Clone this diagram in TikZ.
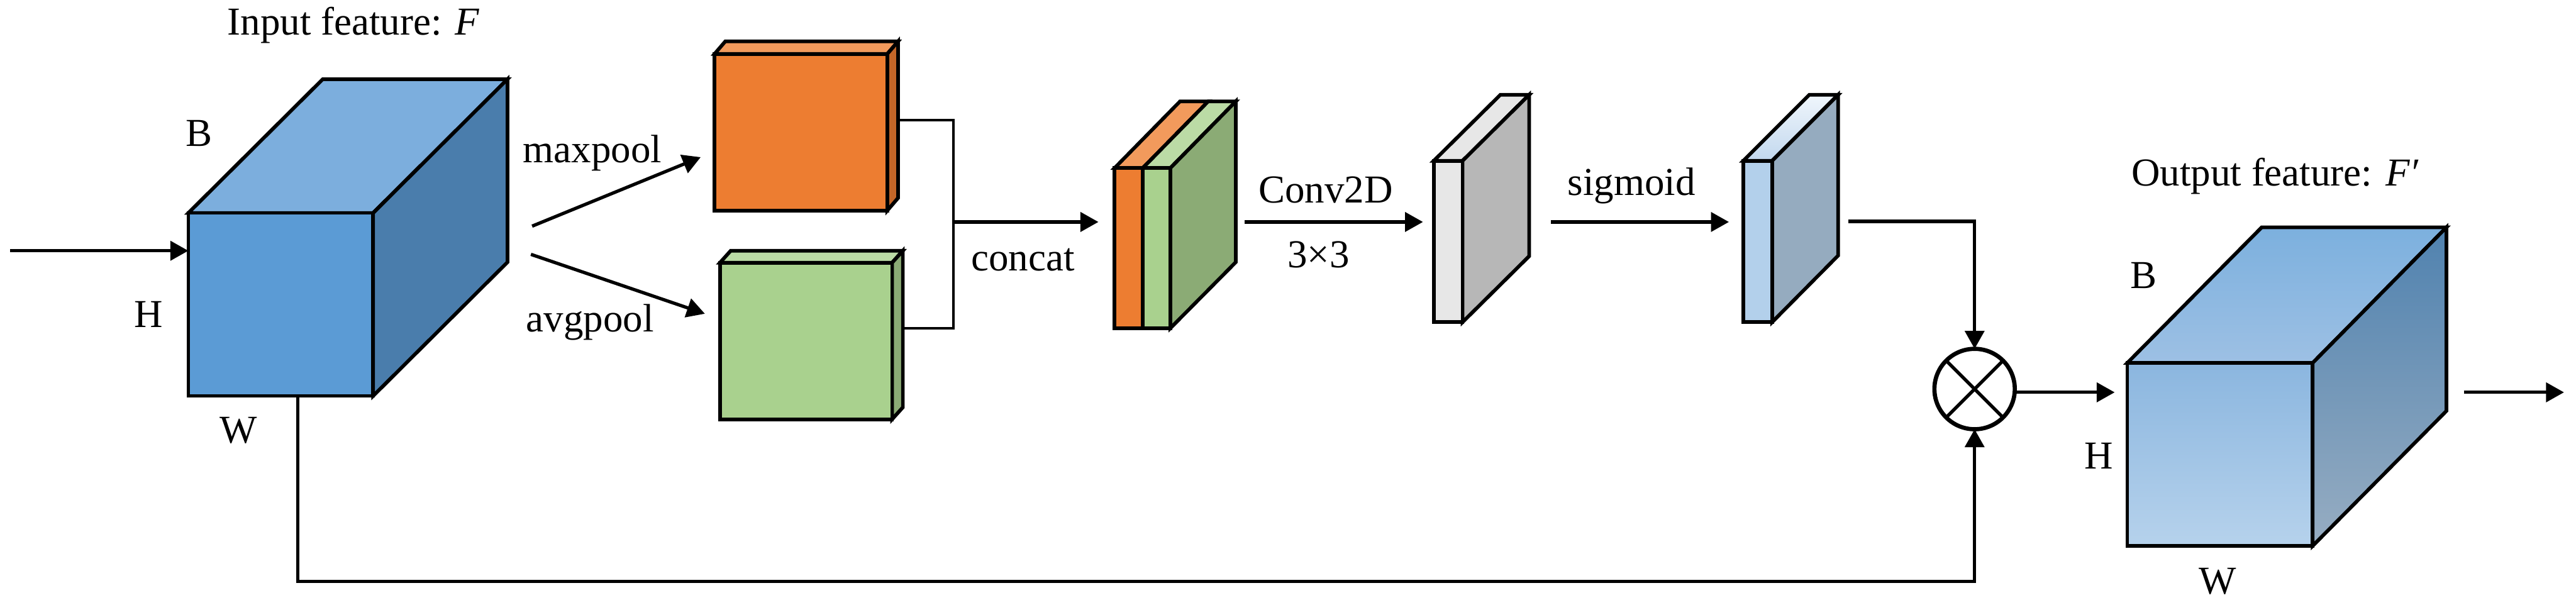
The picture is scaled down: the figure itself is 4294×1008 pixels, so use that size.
\documentclass[tikz,border=0pt]{standalone}
\usepackage{fontspec}
\setmainfont{Liberation Serif}
\usetikzlibrary{arrows.meta,calc}
\definecolor{cA}{HTML}{5B9BD5}\definecolor{cAt}{HTML}{7CAEDD}\definecolor{cAs}{HTML}{4A7DAC}
\definecolor{cO}{HTML}{ED7D31}\definecolor{cOt}{HTML}{F29A5C}\definecolor{cOs}{HTML}{C46628}
\definecolor{cG}{HTML}{A9D18E}\definecolor{cGt}{HTML}{BBDBA5}\definecolor{cGs}{HTML}{8BAB75}
\definecolor{cY}{HTML}{E7E7E7}\definecolor{cYs}{HTML}{B7B7B7}
\definecolor{c1}{HTML}{C9DEF1}\definecolor{c2}{HTML}{B3D0EB}
\definecolor{c3}{HTML}{95ABBF}\definecolor{c4}{HTML}{B9C2C9}
\definecolor{c5}{HTML}{C2D8EE}\definecolor{c6}{HTML}{F0F6FC}
\definecolor{d1}{HTML}{8BB6DF}\definecolor{d2}{HTML}{B6D2EC}
\definecolor{d3}{HTML}{7CB0DE}\definecolor{d4}{HTML}{9DC0E4}
\definecolor{d5}{HTML}{5082AF}\definecolor{d6}{HTML}{97ADC2}
\pgfdeclareverticalshading{bfront}{100bp}{color(0bp)=(c1);color(10bp)=(c1);color(20bp)=(c2);color(100bp)=(c2)}
\pgfdeclareverticalshading{bside}{100bp}{color(0bp)=(c3);color(70bp)=(c3);color(100bp)=(c4)}
\tikzset{
  every node/.style={font=\fontsize{66}{70}\selectfont},
  edge/.style={draw=black,line width=6pt,line join=miter},
  facebox/.style={edge,inner sep=0pt,outer sep=0pt},
  lab/.style={inner sep=0pt,anchor=base},
  labw/.style={inner sep=0pt,anchor=base west},
  wire/.style={draw=black,line width=4.5pt},
  plain/.style={draw=black,line width=5.5pt},
  link/.style={plain,-{Triangle[length=30pt,width=32pt]}},
}
% options of front node, x0, y0 (front top-left), x1, y1 (front bottom-right), dx, dy, top, side
\newcommand{\cubeface}[9]{%
  \path[edge,#8] (#2,#3) -- ++(#6,-#7) -- (#4+#6,#3-#7) -- (#4,#3) -- cycle;
  \path[edge,#9] (#4,#3) -- (#4+#6,#3-#7) -- (#4+#6,#5-#7) -- (#4,#5) -- cycle;
  \node[facebox,minimum width=#4pt-#2pt,minimum height=#5pt-#3pt,anchor=north west,#1] at (#2,#3) {};
}
\begin{document}
\begin{tikzpicture}[x=1pt,y=-1pt]
\useasboundingbox (0,0) rectangle (4294,1008);
% blocks
\cubeface{name=fin,fill=cA}{314}{355}{622}{660}{224}{223}{fill=cAt}{fill=cAs}
\cubeface{name=fmax,fill=cO}{1191}{90}{1479}{351}{18}{21}{fill=cOt}{fill=cOs}
\cubeface{name=favg,fill=cG}{1200}{438}{1487}{699}{18}{20}{fill=cGt}{fill=cGs}
% concatenated block
\path[edge,fill=cOt] (1858,280) -- (1967,169) -- (2014,169) -- (1905,280) -- cycle;
\path[edge,fill=cGt] (1905,280) -- (2014,169) -- (2060,169) -- (1951,280) -- cycle;
\path[edge,fill=cGs] (1951,280) -- (2060,169) -- (2060,437) -- (1951,547) -- cycle;
\node[facebox,fill=cO,minimum width=47pt,minimum height=267pt,anchor=north west] (corange) at (1858,280) {};
\node[facebox,fill=cG,minimum width=46pt,minimum height=267pt,anchor=north west] (cgreen) at (1905,280) {};
\cubeface{name=fconv,fill=cY}{2390}{268}{2438}{537}{111}{110}{fill=cY}{fill=cYs}
% sigmoid block
\path[edge,top color=c6,bottom color=c5] (2906,268) -- (3016,158) -- (3064,158) -- (2954,268) -- cycle;
\path[edge,shading=bside] (2954,268) -- (3064,158) -- (3064,426) -- (2954,537) -- cycle;
\node[facebox,shading=bfront,minimum width=48pt,minimum height=269pt,anchor=north west] (fsig) at (2906,268) {};
% output cube
\path[edge,top color=d3,bottom color=d4] (3546,605) -- (3770,379) -- (4078,379) -- (3855,605) -- cycle;
\path[edge,top color=d5,bottom color=d6] (3855,605) -- (4078,379) -- (4078,685) -- (3855,910) -- cycle;
\node[facebox,top color=d1,bottom color=d2,minimum width=309pt,minimum height=305pt,anchor=north west] (fout) at (3546,605) {};
% multiply symbol
\node[draw=black,line width=7pt,circle,inner sep=0pt,outer sep=0pt,minimum size=134pt] (mul) at (3291.5,648.5) {};
\draw[plain] (mul.45) -- (mul.225);
\draw[plain] (mul.135) -- (mul.315);
% free ends of connectors
\coordinate (inS) at (17,418);
\coordinate (inE) at (314,418);
\coordinate (maxS) at (887,377);
\coordinate (maxE) at (1168,262);
\coordinate (avgS) at (885,424);
\coordinate (avgE) at (1175,523);
\coordinate (jmax) at (1497,200);
\coordinate (javg) at (1505,547);
\coordinate (jj) at (1589,370);
\coordinate (catE) at (1831,370);
\coordinate (convS) at (2075,370);
\coordinate (convE) at (2372,370);
\coordinate (sigS) at (2585,370);
\coordinate (sigE) at (2882,370);
\coordinate (skip) at (496,660);
\coordinate (attS) at (3081,369);
\coordinate (mulOut) at (3360,654);
\coordinate (outIn) at (3525,654);
\coordinate (finalS) at (4107,654);
\coordinate (finalE) at (4274,654);
% connectors
\draw[link] (inS) -- (inE);
\draw[link] (maxS) -- (maxE);
\draw[link] (avgS) -- (avgE);
\draw[wire] (jmax) -| (jj) |- (javg);
\draw[link] (jj) -- (catE);
\draw[link] (convS) -- (convE);
\draw[link] (sigS) -- (sigE);
\draw[link] (attS) -| (mul.north);
\draw[link] (skip) |- ($(mul.south)+(0,254)$) -- (mul.south);
\draw[link] (mulOut) -- (outIn);
\draw[link] (finalS) -- (finalE);
% labels
\node[labw] (tin) at (379,58) {Input feature: \textit{F}};
\node[lab] (lb1) at (332,244) {B};
\node[lab] (lh1) at (248,546) {H};
\node[lab] (lw1) at (398,739) {W};
\node[labw] (tmax) at (872,271) {maxpool};
\node[labw] (tavg) at (877,553) {avgpool};
\node[labw] (tcat) at (1619,451) {concat};
\node[labw] (tconv) at (2098,338) {Conv2D};
\node[labw] (t33) at (2146,446) {3×3};
\node[labw] (tsig) at (2613,326) {sigmoid};
\node[labw] (tout) at (3553,310) {Output feature: \textit{F′}};
\node[lab] (lb2) at (3573,481) {B};
\node[lab] (lh2) at (3499,782) {H};
\node[lab] (lw2) at (3697,990) {W};
\end{tikzpicture}
\end{document}
